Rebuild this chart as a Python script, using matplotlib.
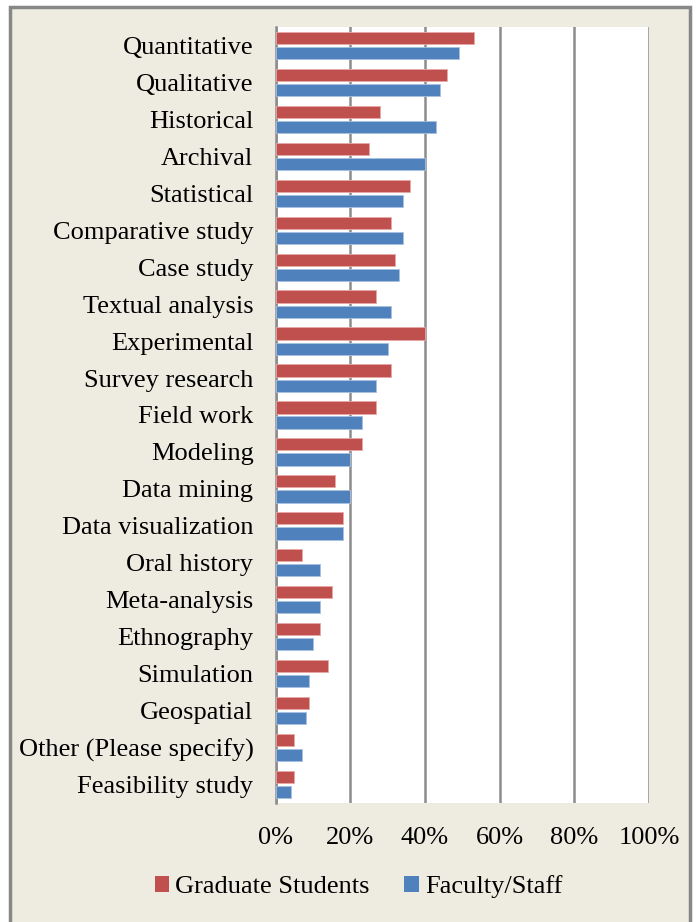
import matplotlib.pyplot as plt
import numpy as np
from matplotlib.patches import Rectangle, Patch

# survey data (percent of respondents)
categories = ['Quantitative', 'Qualitative', 'Historical', 'Archival', 'Statistical',
              'Comparative study', 'Case study', 'Textual analysis', 'Experimental',
              'Survey research', 'Field work', 'Modeling', 'Data mining',
              'Data visualization', 'Oral history', 'Meta-analysis', 'Ethnography',
              'Simulation', 'Geospatial', 'Other (Please specify)', 'Feasibility study']
grad_students = [53, 46, 28, 25, 36, 31, 32, 27, 40, 31, 27, 23, 16, 18, 7, 15, 12, 14, 9, 5, 5]
faculty_staff = [49, 44, 43, 40, 34, 34, 33, 31, 30, 27, 23, 20, 20, 18, 12, 12, 10, 9, 8, 7, 4]
xticks = [0, 20, 40, 60, 80, 100]

red = '#C0504D'
blue = '#4F81BD'
bg = '#EEECE1'
grid_col = '#8C8C8C'
fs = 19

plt.rcParams['font.family'] = ['Liberation Serif', 'DejaVu Serif']

fig = plt.figure(figsize=(6.99, 9.22), dpi=100)
fig.patch.set_facecolor('white')

# beige panel with gray frame
frame = Rectangle((10 / 699, -0.01), 680 / 699, 1 - 7 / 922 + 0.01,
                  transform=fig.transFigure, facecolor=bg,
                  edgecolor='#878787', linewidth=2.5, zorder=-5)
fig.patches.append(frame)

ax = fig.add_axes([275.7 / 699, 1 - 803 / 922, 373.3 / 699, 776 / 922])
ax.set_zorder(1)
ax.set_facecolor('white')

y = np.arange(len(categories))
h = 0.33
off = 0.205
ax.barh(y - off, grad_students, height=h, color=red, edgecolor='#E8A9A7',
        linewidth=0.6, label='Graduate Students', zorder=3)
ax.barh(y + off, faculty_staff, height=h, color=blue, edgecolor='#A9C1E0',
        linewidth=0.6, label='Faculty/Staff', zorder=3)

ax.set_xlim(0, 100)
ax.set_ylim(len(categories) - 0.5, -0.5)
ax.set_xticks(xticks)
ax.set_xticklabels([f'{v}%' for v in xticks])
ax.set_yticks(y)
ax.set_yticklabels(categories)
ax.tick_params(axis='y', length=0, pad=16, labelsize=fs)
ax.tick_params(axis='x', length=0, pad=17, labelsize=fs)

ax.xaxis.grid(True, color=grid_col, linewidth=1.8, zorder=1)
ax.set_axisbelow(True)
for s in ['top', 'bottom', 'right']:
    ax.spines[s].set_visible(False)
ax.spines['left'].set_color(grid_col)
ax.spines['left'].set_linewidth(1.8)

handles = [Patch(facecolor=red, label='Graduate Students'),
           Patch(facecolor=blue, label='Faculty/Staff')]
fig.legend(handles=handles, loc='center', bbox_to_anchor=(358.5 / 699, 1 - 887 / 922),
           ncol=2, frameon=False, fontsize=fs, handlelength=0.55, handleheight=0.55,
           handletextpad=0.23, columnspacing=1.3)

fig.savefig('out.png', dpi=100)
